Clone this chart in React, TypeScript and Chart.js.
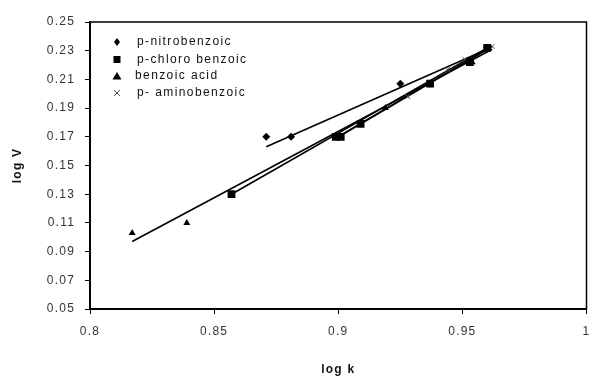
import React, { useEffect, useRef } from 'react';
import { Chart, registerables } from 'chart.js';

Chart.register(...registerables);

// p-nitrobenzoic (diamonds)
const nitroX = [0.871, 0.881, 0.925, 0.937, 0.953, 0.96];
const nitroY = [0.17, 0.17, 0.207, 0.207, 0.222, 0.232];
// p-chloro benzoic (squares)
const chloroX = [0.857, 0.899, 0.901, 0.909, 0.937, 0.953, 0.96];
const chloroY = [0.13, 0.17, 0.17, 0.179, 0.207, 0.222, 0.232];
// benzoic acid (triangles)
const benzoicX = [0.817, 0.839, 0.9, 0.919, 0.937, 0.954];
const benzoicY = [0.103, 0.11, 0.17, 0.19, 0.207, 0.222];
// p- aminobenzoic (crosses)
const aminoX = [0.9, 0.928, 0.944, 0.951, 0.962];
const aminoY = [0.171, 0.198, 0.217, 0.224, 0.233];

// trend line end points
const nitroLineX = [0.871, 0.96];
const nitroLineY = [0.163, 0.231];
const chloroLineX = [0.857, 0.96];
const chloroLineY = [0.13, 0.232];
const benzoicLineX = [0.817, 0.962];
const benzoicLineY = [0.097, 0.231];
const aminoLineX = [0.9, 0.962];
const aminoLineY = [0.17, 0.233];

const xTicks = [0.8, 0.85, 0.9, 0.95, 1];
const yTicks = [0.05, 0.07, 0.09, 0.11, 0.13, 0.15, 0.17, 0.19, 0.21, 0.23, 0.25];

const legendLabels = ['p-nitrobenzoic', 'p-chloro benzoic', 'benzoic acid', 'p- aminobenzoic'];

const FONT = '"Liberation Sans", Arial, sans-serif';

const pts = (xs: number[], ys: number[]) => xs.map((x, i) => ({ x, y: ys[i] }));

function drawMarker(ctx: CanvasRenderingContext2D, kind: string, x: number, y: number) {
  ctx.save();
  ctx.fillStyle = '#000';
  ctx.strokeStyle = '#000';
  ctx.beginPath();
  if (kind === 'diamond') {
    ctx.moveTo(x, y - 4);
    ctx.lineTo(x + 3, y);
    ctx.lineTo(x, y + 4);
    ctx.lineTo(x - 3, y);
    ctx.closePath();
    ctx.fill();
  } else if (kind === 'square') {
    ctx.rect(x - 3.5, y - 3.5, 7, 7);
    ctx.fill();
  } else if (kind === 'triangle') {
    ctx.moveTo(x, y - 4);
    ctx.lineTo(x + 4.5, y + 3.5);
    ctx.lineTo(x - 4.5, y + 3.5);
    ctx.closePath();
    ctx.fill();
  } else {
    ctx.strokeStyle = '#555';
    ctx.lineWidth = 1;
    ctx.moveTo(x - 3, y - 3);
    ctx.lineTo(x + 3, y + 3);
    ctx.moveTo(x + 3, y - 3);
    ctx.lineTo(x - 3, y + 3);
    ctx.stroke();
  }
  ctx.restore();
}

const spacingPlugin = {
  id: 'spacing',
  beforeUpdate(chart: any) { (chart.ctx as any).letterSpacing = '1.2px'; },
  beforeLayout(chart: any) { (chart.ctx as any).letterSpacing = '1.2px'; },
  beforeDraw(chart: any) { (chart.ctx as any).letterSpacing = '1.2px'; },
};

const boxLegendPlugin = {
  id: 'boxLegend',
  afterDatasetsDraw(chart: any) {
    const { ctx, chartArea } = chart;
    ctx.save();
    ctx.strokeStyle = '#000';
    ctx.lineWidth = 1.5;
    ctx.strokeRect(chartArea.left, chartArea.top, chartArea.right - chartArea.left, chartArea.bottom - chartArea.top);
    const kinds = ['diamond', 'square', 'triangle', 'cross'];
    const rows = [42, 59.5, 76, 93];
    ctx.font = '12px ' + FONT;
    (ctx as any).letterSpacing = '1.4px';
    ctx.fillStyle = '#111';
    ctx.textBaseline = 'middle';
    ctx.textAlign = 'left';
    legendLabels.forEach((label, i) => {
      drawMarker(ctx, kinds[i], 117, rows[i]);
      ctx.fillText(label, i === 2 ? 135 : 137, rows[i]);
    });
    ctx.restore();
  },
};

export default function App() {
  const ref = useRef<HTMLCanvasElement>(null);
  useEffect(() => {
    document.body.style.margin = '0';
    if (!ref.current) return;
    const lineDs = (xs: number[], ys: number[], w: number) => ({
      data: pts(xs, ys),
      showLine: true,
      borderColor: '#000',
      borderWidth: w,
      pointRadius: 0,
      fill: false,
      order: 1,
    });
    const chart = new Chart(ref.current, {
      type: 'scatter',
      data: {
        datasets: [
          { label: legendLabels[0], data: pts(nitroX, nitroY), pointStyle: 'rectRot', pointRadius: 4, backgroundColor: '#000', borderColor: '#000', borderWidth: 0, order: 0 },
          { label: legendLabels[1], data: pts(chloroX, chloroY), pointStyle: 'rect', pointRadius: 5.5, backgroundColor: '#000', borderColor: '#000', borderWidth: 0, order: 0 },
          { label: legendLabels[2], data: pts(benzoicX, benzoicY), pointStyle: 'triangle', pointRadius: 4, backgroundColor: '#000', borderColor: '#000', borderWidth: 0, order: 0 },
          { label: legendLabels[3], data: pts(aminoX, aminoY), pointStyle: 'crossRot', pointRadius: 3.5, backgroundColor: '#555', borderColor: '#555', borderWidth: 1, order: 0 },
          lineDs(nitroLineX, nitroLineY, 1.6),
          lineDs(chloroLineX, chloroLineY, 1.6),
          lineDs(benzoicLineX, benzoicLineY, 1.6),
          lineDs(aminoLineX, aminoLineY, 2),
        ] as any,
      },
      options: {
        animation: false,
        responsive: false,
        events: [],
        layout: { padding: { left: 10, top: 22, right: 3, bottom: 0 } },
        plugins: { legend: { display: false }, tooltip: { enabled: false } },
        scales: {
          x: {
            type: 'linear',
            min: 0.8,
            max: 1,
            afterBuildTicks: (s: any) => { s.ticks = xTicks.map((v) => ({ value: v })); },
            afterFit: (s: any) => { s.height = 69; s.paddingLeft = 0; s.paddingRight = 0; },
            grid: { display: true, drawOnChartArea: false, drawTicks: true, tickLength: 5, color: '#000', tickWidth: 1 },
            border: { display: true, color: '#000', width: 2 },
            ticks: {
              padding: 10,
              color: '#333',
              font: { family: FONT, size: 12 },
              maxRotation: 0,
              callback: (v: any) => String(Number(v)),
            },
            title: {
              display: true,
              text: 'log k',
              color: '#111',
              font: { family: FONT, size: 12, weight: 'bold' },
              padding: { top: 0, bottom: 1 },
            },
          },
          y: {
            type: 'linear',
            min: 0.05,
            max: 0.25,
            afterBuildTicks: (s: any) => { s.ticks = yTicks.map((v) => ({ value: v })); },
            afterFit: (s: any) => { s.width = 80; s.paddingTop = 0; s.paddingBottom = 0; },
            grid: { display: true, drawOnChartArea: false, drawTicks: true, tickLength: 5, color: '#000', tickWidth: 1 },
            border: { display: true, color: '#000', width: 2 },
            ticks: {
              padding: 10,
              color: '#333',
              font: { family: FONT, size: 12 },
              callback: (v: any) => Number(v).toFixed(2),
            },
            title: {
              display: true,
              text: 'log V',
              color: '#111',
              font: { family: FONT, size: 12, weight: 'bold' },
              padding: { top: 0, bottom: 0 },
            },
          },
        },
      } as any,
      plugins: [spacingPlugin, boxLegendPlugin],
    });
    return () => chart.destroy();
  }, []);
  return <canvas ref={ref} width={592} height={378} style={{ display: 'block', width: 592, height: 378 }} />;
}
